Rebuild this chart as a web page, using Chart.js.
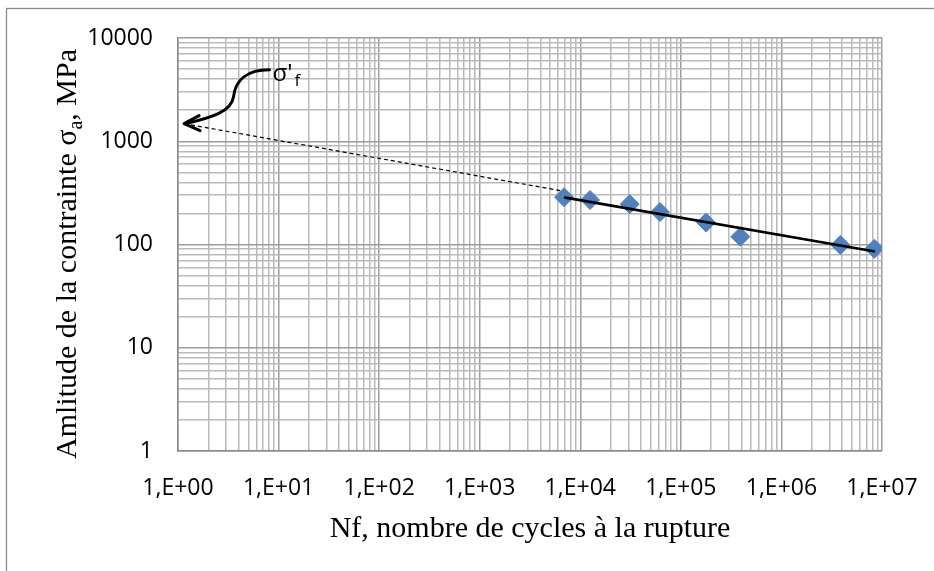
<!DOCTYPE html>
<html>
<head>
<meta charset="utf-8">
<script src="https://cdn.jsdelivr.net/npm/chart.js@4.4.1/dist/chart.umd.min.js"></script>
<style>
  html, body { margin: 0; padding: 0; background: #fff; }
  #wrap { width: 934px; height: 571px; }
</style>
</head>
<body>
<div id="wrap"><canvas id="sn_chart" width="934" height="571"></canvas></div>
<script>
// fatigue test results: cycles to failure / stress amplitude (MPa)
const cycles = [6900, 12500, 31000, 62000, 178000, 390000, 3850000, 8400000];
const stressAmp = [287, 270, 246, 206, 163, 119, 99, 91];

// power trendline over the tested range
const trendCycles = [6900, 8500000];
const trendStress = [286, 85.5];

// dashed extrapolation back to one cycle (sigma'f)
const extrapCycles = [1.15, 6300];
const extrapStress = [1480, 333];

// decades shown on each axis
const xDecades = [0, 1, 2, 3, 4, 5, 6, 7];
const yDecades = [0, 1, 2, 3, 4];

// where the sigma'f callout text sits (data units)
const calloutAt = { n: 8.7, s: 3850 };

const tickFont = { family: 'Open Sans', size: 23 };
const titleFont = '30px "Liberation Serif"';
const subFont = '20px "Liberation Serif"';

const isDecade = v => Math.abs(Math.log10(v) - Math.round(Math.log10(v))) < 1e-9;

// 1..9 x 10^d for every decade, closing on the last power of ten
const logTicks = decades => {
  const out = [];
  decades.forEach((d, i) => {
    const steps = i === decades.length - 1 ? [1] : [1, 2, 3, 4, 5, 6, 7, 8, 9];
    steps.forEach(m => out.push({ value: m * Math.pow(10, d), major: m === 1 }));
  });
  return out;
};

const sciLabel = v => '1,E+' + String(Math.round(Math.log10(v))).padStart(2, '0');
const gridColor = ctx => (ctx.tick && isDecade(ctx.tick.value)) ? '#9c9c9c' : '#b9b9b9';

const toPoints = (xs, ys) => xs.map((x, i) => ({ x, y: ys[i] }));

const decorations = {
  id: 'decorations',
  beforeDraw(chart) {
    const c = chart.ctx;
    c.save();
    c.fillStyle = '#fff';
    c.fillRect(0, 0, chart.width, chart.height);
    // outer chart frame (runs off the right and bottom edge)
    c.strokeStyle = '#8a8a8a';
    c.lineWidth = 1.3;
    c.strokeRect(6.5, 8.5, chart.width + 20, chart.height + 20);
    c.restore();
  },
  afterDraw(chart) {
    const c = chart.ctx;
    const area = chart.chartArea;
    const xs = chart.scales.x, ys = chart.scales.y;
    c.save();
    c.fillStyle = '#000';

    // x title
    c.font = titleFont;
    c.textAlign = 'center';
    c.textBaseline = 'alphabetic';
    c.fillText('Nf, nombre de cycles à la rupture', (area.left + area.right) / 2, 537);

    // y title, rotated, with subscript a
    const partA = 'Amlitude de la contrainte σ';
    const partSub = 'a';
    const partB = ', MPa';
    c.save();
    c.translate(76, 254);
    c.rotate(-Math.PI / 2);
    c.textAlign = 'left';
    c.font = titleFont;
    const wA = c.measureText(partA).width;
    const wB = c.measureText(partB).width;
    c.font = subFont;
    const wS = c.measureText(partSub).width;
    const x0 = -(wA + wS + wB) / 2;
    c.font = titleFont;
    c.fillText(partA, x0, 0);
    c.font = subFont;
    c.fillText(partSub, x0 + wA, 6);
    c.font = titleFont;
    c.fillText(partB, x0 + wA + wS, 0);
    c.restore();

    // sigma'f callout: curved arrow onto the start of the extrapolation
    const tipX = xs.getPixelForValue(extrapCycles[0]);
    const tipY = ys.getPixelForValue(extrapStress[0]);
    const lx = xs.getPixelForValue(calloutAt.n);
    const ly = ys.getPixelForValue(calloutAt.s);
    c.strokeStyle = '#000';
    c.lineWidth = 3;
    c.lineCap = 'round';
    c.lineJoin = 'round';
    c.beginPath();
    c.moveTo(lx - 3, ly - 11);
    c.bezierCurveTo(lx - 25, ly - 11, lx - 37, ly - 1, lx - 39, ly + 16);
    c.bezierCurveTo(lx - 41, ly + 31, tipX + 27, tipY - 6, tipX + 1, tipY);
    c.stroke();
    c.beginPath();
    c.moveTo(tipX + 15, tipY - 8);
    c.lineTo(tipX, tipY);
    c.lineTo(tipX + 16, tipY + 7);
    c.stroke();

    c.textAlign = 'left';
    c.font = '24px "Open Sans"';
    c.fillText("σ'", lx, ly);
    const ws = c.measureText("σ'").width;
    c.font = '17px "Open Sans"';
    c.fillText('f', lx + ws + 2, ly + 5);
    c.restore();
  }
};

const ctx = document.getElementById('sn_chart').getContext('2d');
new Chart(ctx, {
  type: 'scatter',
  data: {
    datasets: [
      {
        label: 'trend',
        data: toPoints(trendCycles, trendStress),
        showLine: true,
        borderColor: '#000',
        borderWidth: 2.6,
        pointRadius: 0,
        order: 0
      },
      {
        label: 'extrapolation',
        data: toPoints(extrapCycles, extrapStress),
        showLine: true,
        borderColor: '#000',
        borderWidth: 1.2,
        borderDash: [4, 3],
        pointRadius: 0,
        order: 1
      },
      {
        label: 'essais',
        data: toPoints(cycles, stressAmp),
        pointStyle: 'rectRot',
        pointRadius: 9.5,
        pointBackgroundColor: '#4f81bd',
        pointBorderColor: '#4f81bd',
        pointBorderWidth: 1,
        order: 2
      }
    ]
  },
  options: {
    responsive: false,
    animation: false,
    devicePixelRatio: 1,
    layout: { padding: { left: 0, right: 52, top: 38, bottom: 0 } },
    plugins: {
      legend: { display: false },
      tooltip: { enabled: false }
    },
    scales: {
      x: {
        type: 'logarithmic',
        min: 1,
        max: 1e7,
        afterBuildTicks: axis => { axis.ticks = logTicks(xDecades); },
        // fixed band under the plot; label overhang fits inside the right padding
        afterFit: axis => { axis.height = 120; axis.paddingLeft = 0; axis.paddingRight = 0; },
        grid: { color: gridColor, lineWidth: 1.5, drawTicks: false },
        border: { color: '#8a8a8a', width: 1.5 },
        ticks: {
          autoSkip: false,
          maxRotation: 0,
          padding: 24,
          color: '#000',
          font: tickFont,
          callback: v => isDecade(v) ? sciLabel(v) : ''
        }
      },
      y: {
        type: 'logarithmic',
        min: 1,
        max: 10000,
        afterBuildTicks: axis => { axis.ticks = logTicks(yDecades); },
        afterFit: axis => { axis.width = 178; axis.paddingTop = 0; axis.paddingBottom = 0; },
        grid: { color: gridColor, lineWidth: 1.5, drawTicks: false },
        border: { color: '#8a8a8a', width: 1.5 },
        ticks: {
          autoSkip: false,
          padding: 25,
          color: '#000',
          font: tickFont,
          callback: v => isDecade(v) ? String(Math.round(v)) : ''
        }
      }
    }
  },
  plugins: [decorations]
});
</script>
</body>
</html>
